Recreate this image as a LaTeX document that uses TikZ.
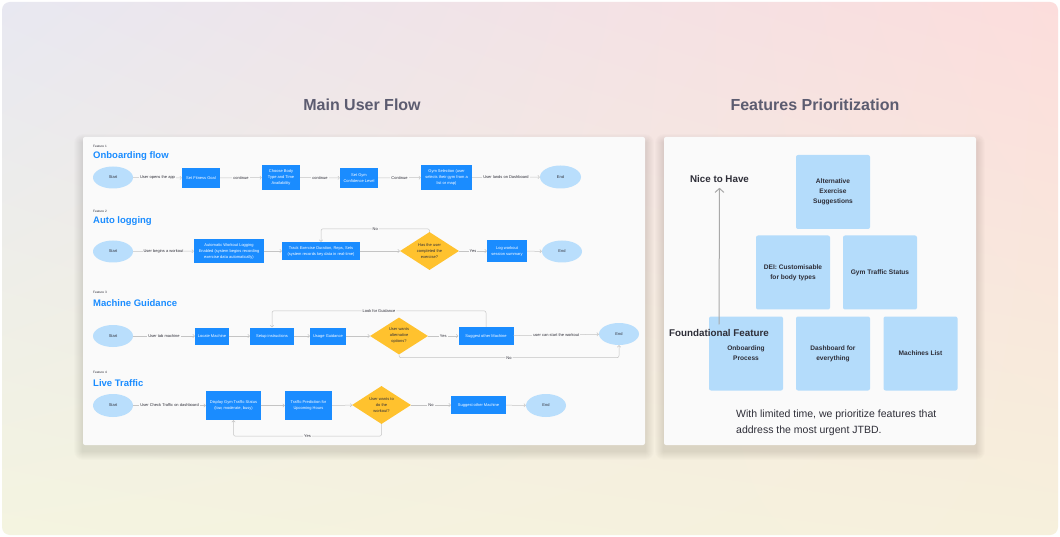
\documentclass[tikz,border=0pt]{standalone}
\usepackage{fontspec}
\setmainfont{Liberation Sans}
\usetikzlibrary{shapes.geometric}
\usetikzlibrary{arrows.meta}
\usetikzlibrary{shadings}
\definecolor{flowblue}{HTML}{1A8CFF}
\definecolor{termblue}{HTML}{B9DEFC}
\definecolor{askyellow}{HTML}{FFC22E}
\definecolor{prioblue}{HTML}{B4DCFB}
\definecolor{panelbg}{HTML}{FAFAFA}
\definecolor{linegray}{HTML}{C4C4C4}
\definecolor{arrowgray}{HTML}{A9A9A9}
\definecolor{titlegray}{HTML}{5C5C70}
\definecolor{inkdark}{HTML}{2E2E38}
\definecolor{bgtl}{HTML}{E8E8F1}
\definecolor{bgtr}{HTML}{FCDDDC}
\definecolor{bgbl}{HTML}{F4F4E0}
\definecolor{bgbr}{HTML}{F6F0DC}
\begin{document}
\begin{tikzpicture}[line cap=round,line join=round,>={Straight Barb[length=1.6pt,width=3.4pt]},x=1pt,y=-1pt,
  term/.style={ellipse,fill=termblue,minimum width=40pt,minimum height=22pt,inner sep=0pt,text=inkdark,font=\fontsize{4}{6}\selectfont},
  stepbox/.style={rectangle,fill=flowblue,inner sep=0pt,align=center,text=white,font=\fontsize{4}{6}\selectfont},
  ask/.style={diamond,fill=askyellow,inner sep=0pt,aspect=1.55,align=center,text=inkdark,font=\fontsize{4}{6}\selectfont},
  flow/.style={->,draw=linegray,line width=0.5pt},
  lbl/.style={fill=panelbg,inner sep=1pt,text=inkdark,font=\fontsize{4}{5}\selectfont},
  tag/.style={anchor=west,inner sep=0pt,text=inkdark,font=\fontsize{3.2}{4}\selectfont},
  heading/.style={anchor=west,inner sep=0pt,text=flowblue,font=\fontsize{9.5}{11}\selectfont\bfseries},
  prio/.style={rectangle,rounded corners=2pt,fill=prioblue,minimum width=74pt,minimum height=74pt,inner sep=0pt,align=center,text=inkdark,font=\fontsize{6.6}{10}\selectfont\bfseries},
  axislabel/.style={inner sep=1pt,text=inkdark,font=\fontsize{9.8}{11}\selectfont\bfseries},
  softshade/.style={fill=black,opacity=0.012}]
\useasboundingbox (0,0) rectangle (1060,537);
\fill[white] (0,0) rectangle (1060,537);
\shade[rounded corners=8pt,upper left=bgtl,upper right=bgtr,lower left=bgbl,lower right=bgbr] (2,2) rectangle (1058,535);
\node[text=titlegray,font=\fontsize{16}{18}\selectfont\bfseries] (title1) at (362,105) {Main User Flow};
\node[text=titlegray,font=\fontsize{16}{18}\selectfont\bfseries] (title2) at (815,105) {Features Prioritization};
% soft shadows under the two panels
\foreach \s in {1,...,9}{
  \fill[softshade,rounded corners=\s pt] (83-\s,137-\s+6) rectangle (645+\s,445+\s+6);
  \fill[softshade,rounded corners=\s pt] (664-\s,137-\s+6) rectangle (976+\s,445+\s+6);
}
\fill[panelbg,rounded corners=2pt] (83,137) rectangle (645,445);
\fill[panelbg,rounded corners=2pt] (664,137) rectangle (976,445);
% feature 1
\node[tag] (f1) at (93,146) {Feature 1};
\node[heading] (h1) at (93,156.5) {Onboarding flow};
\node[term] (s1) at (113,177.5) {Start};
\node[stepbox,minimum width=38pt,minimum height=20pt] (b1a) at (201,178) {Set Fitness Goal};
\node[stepbox,minimum width=38pt,minimum height=25pt] (b1b) at (281,177.5) {Choose Body\\Type and Time\\Availability};
\node[stepbox,minimum width=38pt,minimum height=20pt] (b1c) at (359,178) {Set Gym\\Confidence Level};
\node[stepbox,minimum width=51pt,minimum height=25pt] (b1d) at (446.5,177.5) {Gym Selection (user\\selects their gym from a\\list or map)};
\node[term,minimum width=41pt,minimum height=23pt] (e1) at (560.5,177) {End};
\draw[flow] (s1) -- node[lbl]{User opens the app} (b1a);
\draw[flow] (b1a) -- node[lbl]{continue} (b1b);
\draw[flow] (b1b) -- node[lbl]{continue} (b1c);
\draw[flow] (b1c) -- node[lbl]{Continue} (b1d);
\draw[flow] (b1d) -- node[lbl]{User lands on Dashboard} (e1);
% feature 2
\node[tag] (f2) at (93,211) {Feature 2};
\node[heading] (h2) at (93,221.5) {Auto logging};
\node[term] (s2) at (113,251.5) {Start};
\node[stepbox,minimum width=70pt,minimum height=24pt] (b2a) at (229,251) {Automatic Workout Logging\\Enabled (system begins recording\\exercise data automatically)};
\node[stepbox,minimum width=78pt,minimum height=18pt] (b2b) at (321,251) {Track Exercise Duration, Reps, Sets\\(system records key data in real-time)};
\node[ask,minimum width=59pt,minimum height=38pt] (d2) at (429.5,251) {Has the user\\completed the\\exercise?};
\node[stepbox,minimum width=40pt,minimum height=22pt] (b2c) at (507,251) {Log workout\\session summary};
\node[term] (e2) at (562,251.5) {End};
\draw[flow] (s2) -- node[lbl]{User begins a workout} (b2a);
\draw[flow] (b2a) -- (b2b);
\draw[flow] (b2b) -- (d2);
\draw[flow] (d2) -- node[lbl]{Yes} (b2c);
\draw[flow] (b2c) -- (e2);
\draw[flow,rounded corners=2pt] (d2.north) -- ++(0,-3) -| node[lbl,pos=0.25]{No} (b2b.north);
% feature 3
\node[tag] (f3) at (93,292) {Feature 3};
\node[heading] (h3) at (93,303) {Machine Guidance};
\node[term] (s3) at (113,336) {Start};
\node[stepbox,minimum width=34pt,minimum height=17pt] (b3a) at (212,336) {Locate Machine};
\node[stepbox,minimum width=44pt,minimum height=17pt] (b3b) at (272,336) {Setup instructions};
\node[stepbox,minimum width=36pt,minimum height=17pt] (b3c) at (328,336) {Usage Guidance};
\node[ask,minimum width=58pt,minimum height=37pt] (d3) at (399,336) {User wants\\alternative\\options?};
\node[stepbox,minimum width=55pt,minimum height=18pt] (b3d) at (486,336) {Suggest other Machine};
\node[term] (e3) at (619,334) {End};
\draw[flow] (s3) -- node[lbl]{User tab machine} (b3a);
\draw[flow] (b3a) -- (b3b);
\draw[flow] (b3b) -- (b3c);
\draw[flow] (b3c) -- (d3);
\draw[flow] (d3) -- node[lbl]{Yes} (b3d);
\draw[flow] (b3d) -- node[lbl]{user can start the workout} (e3);
\draw[flow,rounded corners=2pt] (b3d.north) -- ++(0,-16) -| node[lbl,pos=0.25]{Look for Guidance} (b3b.north);
\draw[flow,rounded corners=2pt] (d3.south) -- ++(0,3) -| node[lbl,pos=0.25]{No} (e3.south);
% feature 4
\node[tag] (f4) at (93,372) {Feature 4};
\node[heading] (h4) at (93,383) {Live Traffic};
\node[term,minimum height=23pt] (s4) at (113,405.5) {Start};
\node[stepbox,minimum width=55pt,minimum height=29pt] (b4a) at (233.5,405.5) {Display Gym Traffic Status\\(low, moderate, busy)};
\node[stepbox,minimum width=47pt,minimum height=29pt] (b4b) at (308.5,405.5) {Traffic Prediction for\\Upcoming Hours};
\node[ask,minimum width=59pt,minimum height=38pt] (d4) at (381.5,405) {User wants to\\do the\\workout?};
\node[stepbox,minimum width=55pt,minimum height=18pt] (b4c) at (478.5,405) {Suggest other Machine};
\node[term,minimum height=23pt] (e4) at (546,405.5) {End};
\draw[flow] (s4) -- node[lbl]{User Check Traffic on dashboard} (b4a);
\draw[flow] (b4a) -- (b4b);
\draw[flow] (b4b) -- (d4);
\draw[flow] (d4) -- node[lbl]{No} (b4c);
\draw[flow] (b4c) -- (e4);
\draw[flow,rounded corners=2pt] (d4.south) -- ++(0,12) -| node[lbl,pos=0.25]{Yes} (b4a.south);
% prioritization
\node[prio] (pa) at (833,192) {Alternative\\Exercise\\Suggestions};
\node[prio] (pb) at (793,272.5) {DEI: Customisable\\for body types};
\node[prio] (pc) at (880,272.5) {Gym Traffic Status};
\node[prio] (pd) at (746,353.5) {Onboarding\\Process};
\node[prio] (pe) at (833,353.5) {Dashboard for\\everything};
\node[prio] (pf) at (920.5,353.5) {Machines List};
\node[axislabel] (nth) at (719.5,179) {Nice to Have};
\node[axislabel] (nff) at (719,333) {Foundational Feature};
\draw[-{Straight Barb[length=4pt,width=9pt]},draw=arrowgray,line width=1pt,shorten <=4pt,shorten >=4pt] (nff.north) -- (nth.south);
\node[anchor=north west,align=left,inner sep=0pt,text=inkdark,font=\fontsize{10.5}{16}\selectfont] (note) at (736,409.5) {With limited time, we prioritize features that\\address the most urgent JTBD.};
\end{tikzpicture}
\end{document}
